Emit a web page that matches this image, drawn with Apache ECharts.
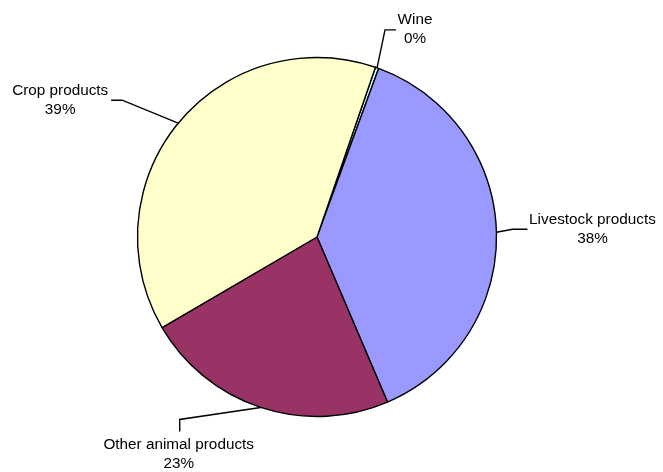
<!DOCTYPE html>
<html>
<head>
<meta charset="utf-8">
<script src="https://cdn.jsdelivr.net/npm/echarts@6/dist/echarts.min.js"></script>
<style>
  html, body { margin: 0; padding: 0; background: #fff; }
  #main { width: 663px; height: 472px; }
</style>
</head>
<body>
<div id="main"></div>
<script>
// data (share of total, %)
var categories = ['Wine', 'Livestock products', 'Other animal products', 'Crop products'];
var values = [0.3, 38.0, 23.0, 38.7];
var colors = ['#CCFFFF', '#9999FF', '#993366', '#FFFFCC'];

// label placement relative to the slice edge point: [label dx, dy], [bend dx, dy], [end dx, dy]
var labelOffsets = [
    [[38, -39], [8, -38], [19, -38]],
    [[96, -3], [16, -3], [31, -3]],
    [[-82, 47], [-81, 12], [-81, 24]],
    [[-118, -23], [-56, -23], [-67, -23]]
];

var myChart = echarts.init(document.getElementById('main'));

var pieData = [];
for (var i = 0; i < categories.length; i++) {
    pieData.push({ name: categories[i], value: values[i], itemStyle: { color: colors[i] } });
}

var option = {
    backgroundColor: '#FFFFFF',
    animation: false,
    series: [{
        type: 'pie',
        center: [317, 237],
        radius: 179.5,
        startAngle: 71,
        clockwise: true,
        percentPrecision: 0,
        avoidLabelOverlap: false,
        itemStyle: {
            borderColor: '#000',
            borderWidth: 1.4
        },
        label: {
            show: true,
            position: 'outside',
            formatter: '{b}\n{d}%',
            color: '#000',
            fontFamily: 'Liberation Sans, Arial, sans-serif',
            fontSize: 15.3,
            lineHeight: 19
        },
        labelLine: {
            show: true,
            length: 15,
            length2: 10,
            lineStyle: { color: '#000', width: 1.4 }
        },
        labelLayout: function (p) {
            var off = labelOffsets[p.dataIndex];
            var edge = p.labelLinePoints[0];
            return {
                x: edge[0] + off[0][0],
                y: edge[1] + off[0][1],
                align: 'center',
                verticalAlign: 'middle',
                labelLinePoints: [
                    edge,
                    [edge[0] + off[1][0], edge[1] + off[1][1]],
                    [edge[0] + off[2][0], edge[1] + off[2][1]]
                ]
            };
        },
        data: pieData
    }]
};
myChart.setOption(option);
</script>
</body>
</html>
